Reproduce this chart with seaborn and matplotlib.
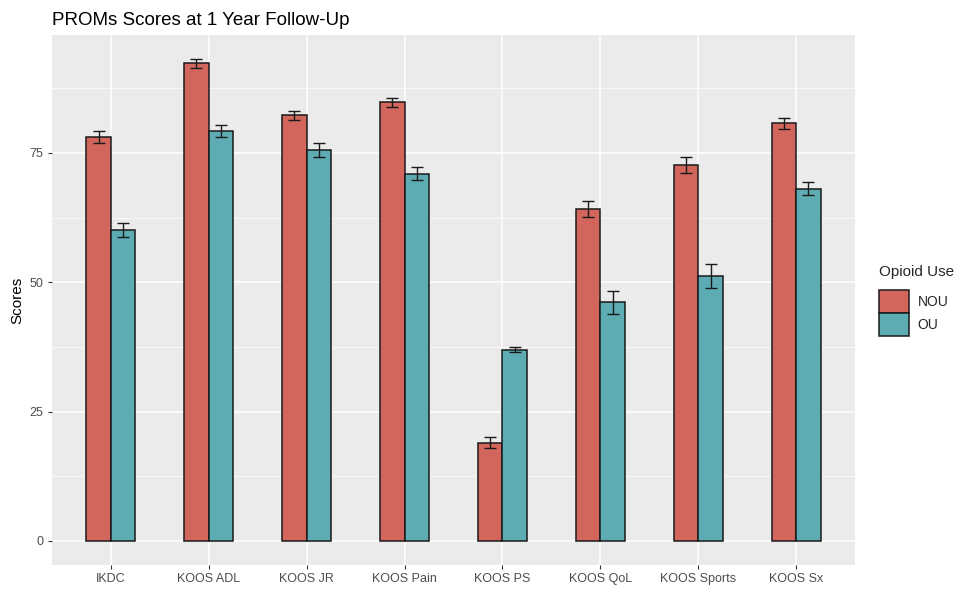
import numpy as np
import pandas as pd
import matplotlib
matplotlib.use("Agg")
import matplotlib.pyplot as plt
import seaborn as sns
from matplotlib.patches import Patch

categories = ["IKDC", "KOOS ADL", "KOOS JR", "KOOS Pain", "KOOS PS",
              "KOOS QoL", "KOOS Sports", "KOOS Sx"]
groups = ["NOU", "OU"]
nou_mean = [78.1, 92.3, 82.3, 84.8, 19.0, 64.1, 72.7, 80.7]
nou_err = [1.1, 0.8, 0.9, 0.9, 1.0, 1.55, 1.5, 1.1]
ou_mean = [60.1, 79.2, 75.6, 71.0, 37.0, 46.1, 51.2, 68.1]
ou_err = [1.3, 1.2, 1.3, 1.3, 0.4, 2.25, 2.25, 1.2]
y_ticks = [0, 25, 50, 75]

colors = {"NOU": "#D3665C", "OU": "#5DACB4"}

df = pd.DataFrame({
    "Category": categories * 2,
    "Group": ["NOU"] * len(categories) + ["OU"] * len(categories),
    "Score": nou_mean + ou_mean,
    "Err": nou_err + ou_err,
})

sns.set_theme(style="darkgrid", rc={
    "axes.facecolor": "#EBEBEB",
    "grid.color": "white",
})
plt.rcParams["font.family"] = ["Liberation Sans", "DejaVu Sans"]

fig = plt.figure(figsize=(9.6, 5.94), dpi=100)
ax = fig.add_axes([52 / 960, 29 / 594, 803 / 960, 530 / 594])

sns.barplot(data=df, x="Category", y="Score", hue="Group", order=categories,
            hue_order=groups, palette=colors, width=0.5, errorbar=None,
            edgecolor="#1a1a1a", linewidth=1.1, saturation=1, ax=ax,
            legend=False, zorder=3)

# error bars at bar centers
for g, means, errs in [("NOU", nou_mean, nou_err), ("OU", ou_mean, ou_err)]:
    off = -0.125 if g == "NOU" else 0.125
    xs = np.arange(len(categories)) + off
    ax.errorbar(xs, means, yerr=errs, fmt="none", ecolor="#1a1a1a",
                elinewidth=1.0, capsize=4.5, capthick=1.0, zorder=4)

ax.set_xlim(-0.6, len(categories) - 0.4)
ax.set_ylim(-4.65, 97.8)
ax.set_yticks(y_ticks)
ax.set_yticks([12.5, 37.5, 62.5, 87.5], minor=True)
ax.grid(True, which="major", color="white", linewidth=1.1, zorder=0)
ax.grid(True, which="minor", axis="y", color="white", linewidth=0.5, zorder=0)
ax.grid(False, which="minor", axis="x")
ax.set_axisbelow(True)
for s in ax.spines.values():
    s.set_visible(False)

ax.tick_params(axis="both", which="major", length=3, width=0.8, color="#333333",
               labelsize=9, labelcolor="#4D4D4D", pad=3, direction="out",
               bottom=True, left=True)
ax.tick_params(axis="both", which="minor", length=0)
ax.set_xlabel("")
ax.set_ylabel("Scores", fontsize=11, color="black", labelpad=4)

fig.text(52 / 960, 1 - 25 / 594, "PROMs Scores at 1 Year Follow-Up",
         fontsize=13.5, color="black", ha="left", va="baseline")

handles = [Patch(facecolor=colors[g], edgecolor="#1a1a1a", linewidth=1.1, label=g)
           for g in groups]
leg = fig.legend(handles=handles, title="Opioid Use", loc="upper left",
                 bbox_to_anchor=(876 / 960, 1 - 262 / 594), frameon=False,
                 fontsize=10, title_fontsize=11, handlelength=2.2,
                 handleheight=2.2, handletextpad=0.6, labelspacing=0.0,
                 borderaxespad=0, borderpad=0.2)
leg._legend_box.align = "left"
leg._legend_box.sep = 8

fig.savefig("out.png", dpi=100)
